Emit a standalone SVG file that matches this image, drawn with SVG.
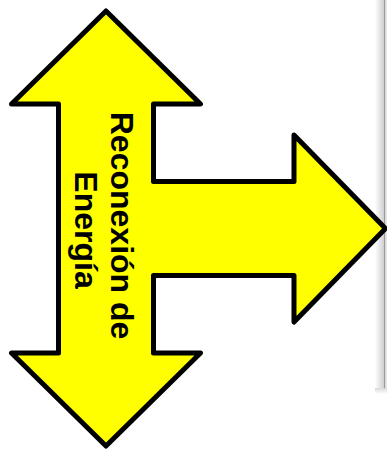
<svg xmlns="http://www.w3.org/2000/svg" width="387" height="452" viewBox="0 0 387 452">
  <defs>
    <linearGradient id="shadeX" x1="0" y1="0" x2="1" y2="0">
      <stop offset="0" stop-color="#ffffff"/>
      <stop offset="1" stop-color="#cfcfcf"/>
    </linearGradient>
    <linearGradient id="shadeY" x1="0" y1="0" x2="0" y2="1">
      <stop offset="0" stop-color="#d8d8d8"/>
      <stop offset="1" stop-color="#ffffff"/>
    </linearGradient>
  </defs>
  <style>
    .arrow { fill: #ffff00; stroke: #000000; stroke-width: 5; stroke-linejoin: round; }
    .label { font-family: "Liberation Sans", Arial, sans-serif; font-weight: bold; font-size: 32px; fill: #000000; text-anchor: middle; }
  </style>
  <rect width="387" height="452" fill="#ffffff"/>
  <g id="page-edge">
    <rect x="375" y="0" width="9" height="388" fill="url(#shadeX)"/>
    <rect x="384" y="0" width="1.5" height="388" fill="#9a9a9a"/>
    <rect x="385.5" y="0" width="1.5" height="388" fill="#e6e6e6"/>
    <rect x="375" y="388" width="12" height="6" fill="url(#shadeY)"/>
  </g>
  <g id="connectors"></g>
  <g id="t-arrow">
    <polygon class="arrow" points="106,11 200.5,104 153.5,104 153.5,181.5 294,181.5 294,135 385.5,228.5 294,322 294,275.5 153.5,275.5 153.5,353 200.5,353 106,446 11.5,353 58.5,353 58.5,104 11.5,104"/>
    <text class="label" transform="translate(93,230) rotate(90)">
      <tspan x="0" y="-18">Reconexión de</tspan>
      <tspan x="0" y="18">Energía</tspan>
    </text>
  </g>
</svg>
